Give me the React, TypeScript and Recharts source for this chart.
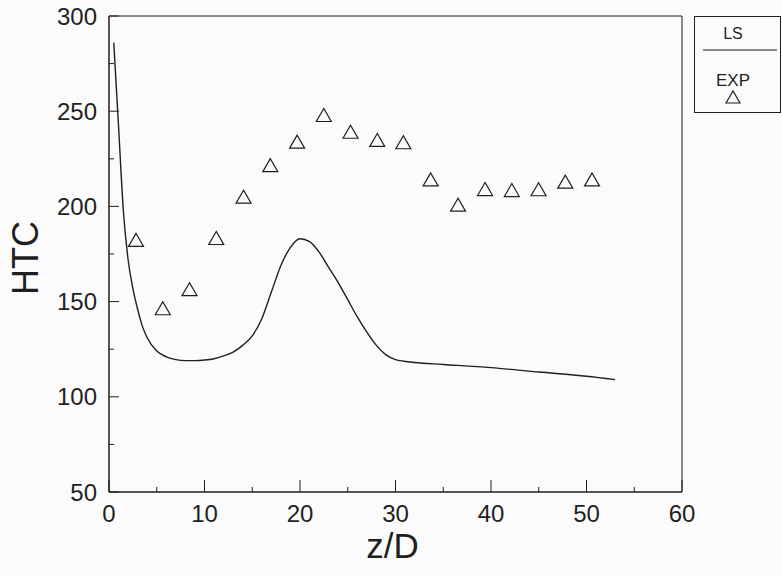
import React from "react";
import { ComposedChart, Line, Scatter, XAxis, YAxis, ReferenceArea, Label } from "recharts";

// LS simulation curve
const lsZ = [0.5, 1, 1.5, 2, 2.5, 3, 3.5, 4, 5, 6, 7, 8, 9, 10, 11, 12, 13, 14, 15, 16, 17, 18, 19, 20, 21, 22, 23, 24, 25, 26, 27, 28, 29, 30, 32, 35, 40, 45, 50, 53];
const lsHtc = [286, 242, 198, 172, 157, 146, 137, 131, 124, 121, 119.5, 119, 119, 119.3, 120, 121.5, 123.5, 127, 132, 141, 155, 169, 178.5, 183, 181.5, 176, 168, 160, 151, 142, 134, 127, 122, 119.5, 118, 117, 115.3, 113, 110.8, 109];

// experiment points
const expZ = [2.83, 5.63, 8.43, 11.23, 14.09, 16.89, 19.7, 22.49, 25.29, 28.09, 30.82, 33.68, 36.55, 39.38, 42.18, 44.98, 47.78, 50.58];
const expHtc = [182.4, 146.5, 156.5, 183.4, 205.1, 221.7, 234.0, 248.0, 239.2, 234.9, 233.7, 214.2, 200.9, 209.1, 208.6, 209.0, 213.0, 214.2];

const xTicks = [0, 5, 10, 15, 20, 25, 30, 35, 40, 45, 50, 55, 60];
const yTicks = [50, 75, 100, 125, 150, 175, 200, 225, 250, 275, 300];

const lsData = lsZ.map((z, i) => ({ z, htc: lsHtc[i] }));
const expData = expZ.map((z, i) => ({ z, htc: expHtc[i] }));

const FONT = "'Liberation Sans', Arial, Helvetica, sans-serif";
const INK = "#1f1f1f";

function XTick(props: any) {
  const { x, y, payload } = props;
  const v = payload.value;
  const major = v % 10 === 0;
  return (
    <g>
      <line x1={x} y1={y} x2={x} y2={y - (major ? 12 : 5)} stroke={INK} strokeWidth={1} />
      {major && (
        <text x={x} y={y + 21} textAnchor="middle" dominantBaseline="central" fontSize={24} fill={INK} fontFamily={FONT}>
          {v}
        </text>
      )}
    </g>
  );
}

function YTick(props: any) {
  const { x, y, payload } = props;
  const v = payload.value;
  const major = v % 50 === 0;
  return (
    <g>
      <line x1={x} y1={y} x2={x + (major ? 10 : 5)} y2={y} stroke={INK} strokeWidth={1} />
      {major && (
        <text x={x - 12} y={y} textAnchor="end" dominantBaseline="central" fontSize={24} fill={INK} fontFamily={FONT}>
          {v}
        </text>
      )}
    </g>
  );
}

function Tri(props: any) {
  const { cx, cy } = props;
  return (
    <polygon
      points={`${cx},${cy - 6.5} ${cx - 7.5},${cy + 6.5} ${cx + 7.5},${cy + 6.5}`}
      fill="none"
      stroke={INK}
      strokeWidth={1.2}
    />
  );
}

function LegendBox() {
  return (
    <svg width={87} height={97} style={{ position: "absolute", left: 694, top: 16 }}>
      <rect x={0.5} y={0.5} width={86} height={96} fill="none" stroke={INK} strokeWidth={1} />
      <text x={39} y={17} textAnchor="middle" dominantBaseline="central" fontSize={16} fill={INK} fontFamily={FONT}>
        LS
      </text>
      <line x1={9} y1={34} x2={83} y2={34} stroke={INK} strokeWidth={1.2} />
      <text x={39} y={64} textAnchor="middle" dominantBaseline="central" fontSize={17} fill={INK} fontFamily={FONT}>
        EXP
      </text>
      <polygon points="39,75 32,87 46,87" fill="none" stroke={INK} strokeWidth={1.2} />
    </svg>
  );
}

export default function App() {
  return (
    <div style={{ position: "absolute", left: 0, top: 0, width: 782, height: 576, background: "#fbfbfb" }}>
      <ComposedChart width={782} height={576} margin={{ top: 16, right: 100, bottom: 0, left: 0 }}>
        <XAxis
          dataKey="z"
          type="number"
          domain={[0, 60]}
          ticks={xTicks}
          interval={0}
          height={84}
          tickSize={0}
          tickMargin={0}
          tickLine={false}
          axisLine={{ stroke: INK }}
          tick={<XTick />}
          allowDuplicatedCategory={false}
        >
          <Label
            content={(p: any) => (
              <text
                x={p.viewBox.x + p.viewBox.width / 2 - 3}
                y={545}
                textAnchor="middle"
                dominantBaseline="central"
                fontSize={35}
                fill={INK}
                fontFamily={FONT}
              >
                z/D
              </text>
            )}
          />
        </XAxis>
        <YAxis
          dataKey="htc"
          type="number"
          domain={[50, 300]}
          ticks={yTicks}
          interval={0}
          width={109}
          tickSize={0}
          tickMargin={0}
          tickLine={false}
          axisLine={{ stroke: INK }}
          tick={<YTick />}
        >
          <Label
            content={(p: any) => {
              const cx = 25;
              const cy = p.viewBox.y + p.viewBox.height / 2 + 4;
              return (
                <text
                  x={cx}
                  y={cy}
                  transform={`rotate(-90, ${cx}, ${cy})`}
                  textAnchor="middle"
                  dominantBaseline="central"
                  fontSize={36}
                  fill={INK}
                  fontFamily={"'Liberation Sans Narrow', " + FONT}
                >
                  HTC
                </text>
              );
            }}
          />
        </YAxis>
        <ReferenceArea x1={0} x2={60} y1={50} y2={300} fill="none" stroke={INK} strokeWidth={1} ifOverflow="visible" />
        <Line
          data={lsData}
          dataKey="htc"
          type="monotone"
          stroke={INK}
          strokeWidth={1.4}
          dot={false}
          activeDot={false}
          isAnimationActive={false}
        />
        <Scatter data={expData} dataKey="htc" shape={<Tri />} isAnimationActive={false} />
      </ComposedChart>
      <LegendBox />
    </div>
  );
}
